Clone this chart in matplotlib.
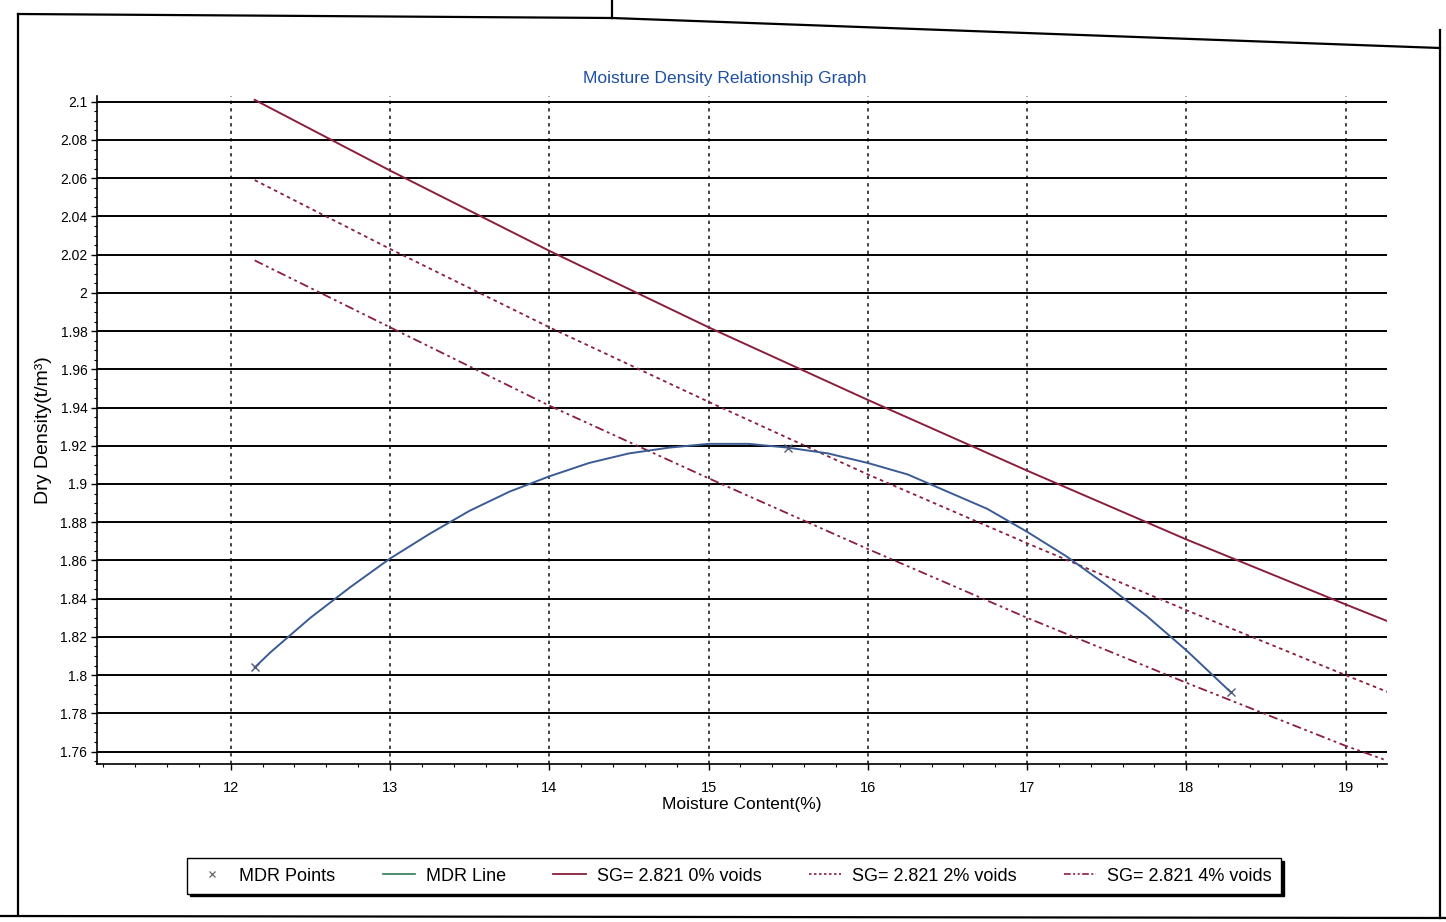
import numpy as np
import matplotlib.pyplot as plt
from matplotlib.lines import Line2D
from matplotlib.ticker import MultipleLocator, FuncFormatter

plt.rcParams['font.family'] = ['Liberation Sans', 'DejaVu Sans']

# compaction test points
mdr_moisture = [12.15, 15.5, 18.28]
mdr_density = [1.804, 1.919, 1.791]

# MDR curve through the test points
curve_moisture = [12.15, 12.25, 12.5, 12.75, 13.0, 13.25, 13.5, 13.75, 14.0,
                  14.25, 14.5, 14.75, 15.0, 15.25, 15.5, 15.75, 16.0, 16.25,
                  16.5, 16.75, 17.0, 17.25, 17.5, 17.75, 18.0, 18.28]
curve_density = [1.804, 1.812, 1.830, 1.846, 1.861, 1.874, 1.886, 1.896, 1.904,
                 1.911, 1.916, 1.919, 1.921, 1.921, 1.919, 1.916, 1.911, 1.905,
                 1.896, 1.887, 1.875, 1.862, 1.847, 1.831, 1.813, 1.791]

# air voids lines for SG = 2.821
voids_moisture = [12.15, 13, 14, 15, 16, 17, 18, 19, 19.27]
voids_0 = [2.101, 2.064, 2.022, 1.982, 1.944, 1.907, 1.871, 1.837, 1.828]
voids_2 = [2.059, 2.023, 1.982, 1.943, 1.905, 1.869, 1.834, 1.800, 1.791]
voids_4 = [2.017, 1.982, 1.941, 1.903, 1.866, 1.830, 1.796, 1.763, 1.755]

W, H = 1446, 922
fig = plt.figure(figsize=(W / 100, H / 100), dpi=100)
fig.patch.set_facecolor('white')

ax = fig.add_axes([97 / W, 1 - 764 / H, (1387 - 97) / W, (764 - 96) / H])

maroon = '#8a1f3c'
ax.plot(voids_moisture, voids_0, color=maroon, lw=1.4, zorder=3)
ax.plot(voids_moisture, voids_2, color=maroon, lw=1.3, ls=(0, (2, 2)), zorder=3)
ax.plot(voids_moisture, voids_4, color=maroon, lw=1.3, ls=(0, (5, 2, 1.5, 2, 1.5, 2)), zorder=3)
ax.plot(curve_moisture, curve_density, color='#3b5b94', lw=1.4, zorder=4)
ax.plot(mdr_moisture, mdr_density, ls='none', marker='x', ms=6, mew=1.0,
        color='#4a5a7a', zorder=5)

ax.set_xlim(11.16, 19.26)
ax.set_ylim(1.7535, 2.103)
ax.xaxis.set_major_locator(MultipleLocator(1))
ax.xaxis.set_minor_locator(MultipleLocator(0.2))
ax.yaxis.set_major_locator(MultipleLocator(0.02))
ax.yaxis.set_minor_locator(MultipleLocator(0.005))
ax.yaxis.set_major_formatter(FuncFormatter(lambda v, p: '%g' % round(v, 3)))

ax.grid(axis='y', which='major', color='black', lw=1.4, ls='-', zorder=1)
ax.grid(axis='x', which='major', color='#222222', lw=1.2, ls=(0, (2, 2.5)), zorder=1)
ax.set_axisbelow(True)

for s in ['top', 'right']:
    ax.spines[s].set_visible(False)
for s in ['left', 'bottom']:
    ax.spines[s].set_linewidth(1.2)
ax.tick_params(which='major', length=4, width=1, labelsize=10, pad=3)
ax.tick_params(which='minor', length=2.5, width=0.8)
ax.tick_params(axis='x', pad=8, labelsize=10.5)

ax.set_xlabel('Moisture Content(%)', fontsize=12.5, labelpad=2)
ax.set_ylabel('Dry Density(t/m³)', fontsize=14, labelpad=6)

fig.text(725 / W, 1 - 78 / H, 'Moisture Density Relationship Graph',
         ha='center', va='center', fontsize=12.5, color='#1f4fa3')

handles = [
    Line2D([], [], ls='none', marker='x', ms=5, mew=0.9, color='#666666'),
    Line2D([], [], color='#2f7a55', lw=1.2),
    Line2D([], [], color=maroon, lw=1.3),
    Line2D([], [], color=maroon, lw=1.2, ls=(0, (1.5, 1.5))),
    Line2D([], [], color=maroon, lw=1.2, ls=(0, (4, 1.5, 1.2, 1.5, 1.2, 1.5))),
]
labels = ['MDR Points', 'MDR Line', 'SG= 2.821 0% voids',
          'SG= 2.821 2% voids', 'SG= 2.821 4% voids']
leg = fig.legend(handles, labels, loc='center', ncol=5, mode='expand',
                 bbox_to_anchor=(178 / W, 1 - 898 / H, (1290 - 178) / W, 44 / H),
                 fontsize=13, handlelength=1.8, handletextpad=0.6,
                 frameon=True, fancybox=False, borderpad=0.5,
                 shadow={'color': 'black', 'alpha': 1})
leg.get_frame().set_edgecolor('black')
leg.get_frame().set_linewidth(1.0)

# page frame around the chart
frame = dict(color='black', lw=1.6, transform=fig.transFigure)
fig.add_artist(Line2D([18 / W, 18 / W], [1 - 14 / H, 1 - 914 / H], **frame))
fig.add_artist(Line2D([1440 / W, 1440 / W], [1 - 30 / H, 1 - 918 / H], **frame))
fig.add_artist(Line2D([18 / W, 612 / W], [1 - 14 / H, 1 - 18 / H], **frame))
fig.add_artist(Line2D([612 / W, 1440 / W], [1 - 18 / H, 1 - 48 / H], **frame))
fig.add_artist(Line2D([612 / W, 612 / W], [1.0, 1 - 18 / H], **frame))
fig.add_artist(Line2D([0, 1], [1 - 916 / H, 1 - 918 / H], **frame))

fig.savefig('out.png', dpi=100)
